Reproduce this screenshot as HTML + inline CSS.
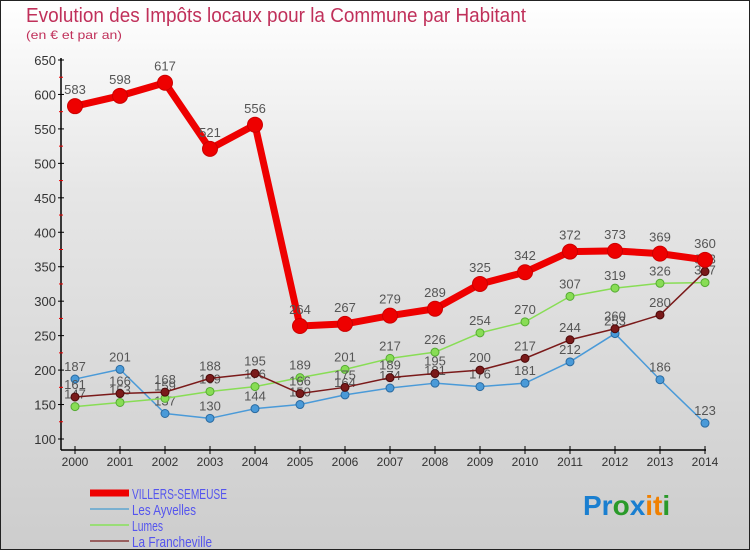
<!DOCTYPE html>
<html><head><meta charset="utf-8"><style>
body{margin:0;width:750px;height:550px;overflow:hidden;font-family:"Liberation Sans",sans-serif}
</style></head><body>
<svg width="750" height="550" xmlns="http://www.w3.org/2000/svg">
<defs><linearGradient id="bg" x1="0" y1="0" x2="0" y2="1"><stop offset="0" stop-color="#ffffff"/><stop offset="0.35" stop-color="#e6e6e6"/><stop offset="1" stop-color="#cdcdcd"/></linearGradient></defs>
<rect x="0.5" y="0.5" width="749" height="549" fill="url(#bg)" stroke="#222"/>
<text x="26" y="22" font-size="20" fill="#c0305a" textLength="500" lengthAdjust="spacingAndGlyphs">Evolution des Impôts locaux pour la Commune par Habitant</text>
<text x="26" y="39" font-size="12" fill="#c0305a" textLength="96" lengthAdjust="spacingAndGlyphs">(en € et par an)</text>
<g id="axes"></g>
<g id="series"></g>
<g id="legend" font-size="15" fill="#5555ee"></g>
<text x="583" y="515" font-size="28" font-weight="bold"><tspan fill="#1a7fd0">Pr</tspan><tspan fill="#2a9a2a">o</tspan><tspan fill="#1a7fd0">x</tspan><tspan fill="#f08000">it</tspan><tspan fill="#2a9a2a">i</tspan></text>
</svg>
<script>
const years=[2000,2001,2002,2003,2004,2005,2006,2007,2008,2009,2010,2011,2012,2013,2014];
const yTicks=[100,150,200,250,300,350,400,450,500,550,600,650];
const villers=[583,598,617,521,556,264,267,279,289,325,342,372,373,369,360];
const ayvelles=[187,201,137,130,144,150,164,174,181,176,181,212,253,186,123];
const lumes=[147,153,159,169,176,189,201,217,226,254,270,307,319,326,327];
const francheville=[161,166,168,188,195,166,175,189,195,200,217,244,260,280,343];
const NS="http://www.w3.org/2000/svg";
const xs=i=>75+i*(630/14);
const ys=v=>439-(v-100)*(379/550);
function mk(tag,attrs,parent){const e=document.createElementNS(NS,tag);for(const k in attrs)e.setAttribute(k,attrs[k]);parent.appendChild(e);return e;}
const ax=document.getElementById('axes');
let a=mk('line',{x1:61,y1:58,x2:61,y2:450,stroke:'#000','stroke-width':1.5},ax);


a=mk('line',{x1:61,y1:450,x2:706,y2:450,stroke:'#000','stroke-width':1.5},ax);


yTicks.forEach(v=>{const y=ys(v);
 mk('line',{x1:58,y1:y,x2:64,y2:y,stroke:'#000'},ax);
 if(v<650)mk('line',{x1:59,y1:ys(v+25),x2:63,y2:ys(v+25),stroke:'#e00'},ax);
 const t=mk('text',{x:56,y:y+5,'font-size':13,'text-anchor':'end',fill:'#333'},ax);t.textContent=v;
 
 
});
years.forEach((yr,i)=>{const x=xs(i);
 mk('line',{x1:x,y1:446,x2:x,y2:454,stroke:'#000'},ax);
 const t=mk('text',{x:x,y:466,'font-size':12,'text-anchor':'middle',fill:'#333'},ax);t.textContent=yr;
 
 
});
const sg=document.getElementById('series');
function series(vals,color,lw,r,stroke,name,labelOff){
 const g=mk('g',{},sg);
 
 
 mk('polyline',{points:vals.map((v,i)=>xs(i)+','+ys(v)).join(' '),fill:'none',stroke:color,'stroke-width':lw,'stroke-linejoin':'round'},g);
 vals.forEach((v,i)=>{const c=mk('circle',{cx:xs(i),cy:ys(v),r:r,fill:color,stroke:stroke,'stroke-width':1},g);
  
  
  const t=mk('text',{x:xs(i),y:ys(v)-labelOff,'font-size':13,'text-anchor':'middle',fill:'#555'},g);t.textContent=v;
  
  
 });
}
series(ayvelles,'#4a9ad8',1.5,4,'#2a6aa0','les-ayvelles',8);
series(lumes,'#88dd55',1.5,4,'#55aa33','lumes',8);
series(francheville,'#7a1a1a',1.5,4,'#4a0a0a','la-francheville',8);
series(villers,'#ee0000',7,7.5,'#cc0000','villers-semeuse',12);
const lg=document.getElementById('legend');
[['VILLERS-SEMEUSE','#ee0000',7,95],['Les Ayvelles','#7ab0d0',2,64],['Lumes','#99dd77',2,31],['La Francheville','#996060',2,80]].forEach((d,i)=>{
 const y=493+i*16;
 const l=mk('line',{x1:90,y1:y,x2:129,y2:y,stroke:d[1],'stroke-width':d[2]},lg);
 
 
 const t=mk('text',{x:132,y:y+6,textLength:d[3],lengthAdjust:'spacingAndGlyphs'},lg);t.textContent=d[0];
 
 
});
</script>
</body></html>
